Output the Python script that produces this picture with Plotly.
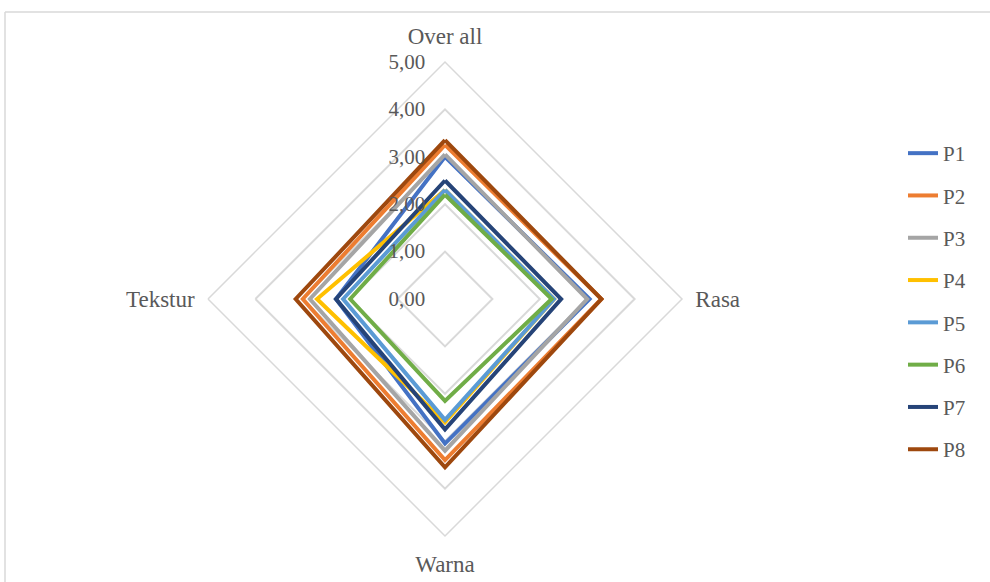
import plotly.graph_objects as go

categories = ["Over all", "Rasa", "Warna", "Tekstur"]
series_names = ["P1", "P2", "P3", "P4", "P5", "P6", "P7", "P8"]
P1 = [3.00, 3.05, 3.05, 2.30]
P2 = [3.25, 3.30, 3.40, 3.00]
P3 = [3.05, 3.00, 3.20, 2.85]
P4 = [2.30, 2.30, 2.60, 2.70]
P5 = [2.30, 2.30, 2.55, 2.15]
P6 = [2.20, 2.25, 2.15, 2.00]
P7 = [2.50, 2.45, 2.75, 2.30]
P8 = [3.35, 3.30, 3.55, 3.15]
series_values = [P1, P2, P3, P4, P5, P6, P7, P8]
tick_values = [0, 1, 2, 3, 4, 5]
tick_labels = ["0,00", "1,00", "2,00", "3,00", "4,00", "5,00"]

colors = ["#4472C4", "#ED7D31", "#A5A5A5", "#FFC000", "#5B9BD5", "#70AD47", "#264478", "#9E480E"]

W, H = 990, 582
cx, cy, R = 445, 299, 237

fig = go.Figure()
for name, vals, col in zip(series_names, series_values, colors):
    fig.add_trace(go.Scatterpolar(
        r=vals + vals[:1], theta=categories + categories[:1],
        mode="lines", name=name, legendgroup=name,
        line=dict(color=col, width=4),
    ))

fam = "Liberation Serif, Times New Roman, serif"
font = dict(family=fam, size=21, color="#595959")
afont = dict(family=fam, size=23, color="#595959")

fig.update_layout(
    width=W, height=H,
    margin=dict(l=0, r=0, t=0, b=0),
    paper_bgcolor="white",
    font=font,
    polar=dict(
        domain=dict(x=[(cx - R) / W, (cx + R) / W], y=[1 - (cy + R) / H, 1 - (cy - R) / H]),
        bgcolor="white",
        gridshape="linear",
        radialaxis=dict(
            range=[0, 5], tickvals=tick_values, ticktext=tick_labels,
            angle=90, tickangle=90, side="counterclockwise",
            showline=False, ticks="outside", ticklen=12, tickcolor="rgba(0,0,0,0)",
            gridcolor="#D9D9D9", gridwidth=1.5,
            tickfont=font,
        ),
        angularaxis=dict(
            rotation=90, direction="clockwise",
            showgrid=False, showline=True, linecolor="#D9D9D9", linewidth=1.5,
            ticks="outside", ticklen=8, tickcolor="rgba(0,0,0,0)", tickfont=afont,
        ),
    ),
    legend=dict(
        x=903 / W, y=1 - 133 / H, xanchor="left", yanchor="top",
        font=font, tracegroupgap=12, bgcolor="rgba(0,0,0,0)",
    ),
    shapes=[
        dict(type="line", xref="paper", yref="paper", x0=5 / W, x1=1, y0=1 - 12 / H, y1=1 - 12 / H,
             line=dict(color="#D9D9D9", width=1.5)),
        dict(type="line", xref="paper", yref="paper", x0=5 / W, x1=5 / W, y0=0, y1=1 - 12 / H,
             line=dict(color="#D9D9D9", width=1.5)),
    ],
)

fig.write_html("out.html")
